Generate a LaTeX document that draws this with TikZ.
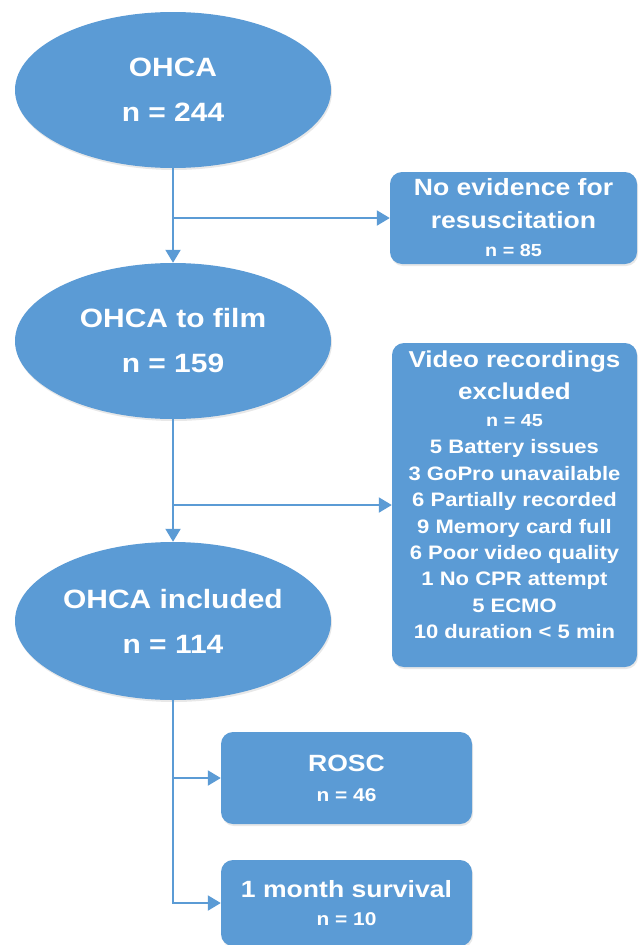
\documentclass[tikz,border=0pt]{standalone}
\usepackage{fontspec}
\usepackage{graphicx}
\setmainfont{Liberation Sans}
\usetikzlibrary{arrows.meta,shadows,shapes.geometric}
\definecolor{boxblue}{HTML}{5B9BD5}
\newcommand{\sx}[1]{\scalebox{1.13}[1]{#1}}
\begin{document}
\begin{tikzpicture}[x=1pt,y=-1pt,
  oval/.style={ellipse, fill=boxblue, draw=none, inner sep=0pt, text=white,
    font=\bfseries\fontsize{26.5}{45}\selectfont, align=center,
    drop shadow={opacity=0.18, shadow xshift=1pt, shadow yshift=-2pt}},
  rbox/.style={rectangle, rounded corners=12pt, fill=boxblue, draw=none, inner sep=0pt,
    text=white, align=center,
    drop shadow={opacity=0.18, shadow xshift=1pt, shadow yshift=-2pt}},
  flow/.style={draw=boxblue, line width=2pt, -{Triangle[length=13pt,width=15pt]}}
]
\useasboundingbox (0,0) rectangle (638,945);
\fill[white] (0,0) rectangle (638,945);

\node[oval, minimum width=316pt, minimum height=156pt] (e1) at (173,90)
  {\sx{OHCA}\\ \sx{n = 244}};
\node[oval, minimum width=316pt, minimum height=156pt] (e2) at (173,341)
  {\sx{OHCA to film}\\ \sx{n = 159}};
\node[oval, minimum width=316pt, minimum height=158pt] (e3) at (173,621)
  {\sx{OHCA included}\\ \sx{n = 114}};

\node[rbox, minimum width=247pt, minimum height=92pt,
  font=\bfseries\fontsize{17.5}{28}\selectfont] (b1) at (513.5,218)
  {\fontsize{23.5}{31}\selectfont \sx{No evidence for}\\[5pt]
   \fontsize{23.5}{31}\selectfont \sx{resuscitation}\\ \sx{n = 85}};
\node[rbox, minimum width=245pt, minimum height=324pt,
  font=\bfseries\fontsize{19.5}{26.4}\selectfont] (b2) at (514.5,505)
  {\fontsize{23}{31}\selectfont \sx{Video recordings}\\[5pt]
   \fontsize{23}{31}\selectfont \sx{excluded}\\[1pt]
   \fontsize{17.5}{26.4}\selectfont \sx{n = 45}\\[1pt]
   \sx{5 Battery issues}\\ \sx{3 GoPro unavailable}\\
   \sx{6 Partially recorded}\\ \sx{9 Memory card full}\\ \sx{6 Poor video quality}\\
   \sx{1 No CPR attempt}\\ \sx{5 ECMO}\\ \sx{10 duration < 5 min}\\[-6pt]};
\node[rbox, minimum width=251pt, minimum height=92pt,
  font=\bfseries\fontsize{18.5}{30}\selectfont] (b3) at (346.5,778)
  {\fontsize{23.5}{30}\selectfont \sx{ROSC}\\ \sx{n = 46}};
\node[rbox, minimum width=251pt, minimum height=86pt,
  font=\bfseries\fontsize{18.5}{28}\selectfont] (b4) at (346.5,903)
  {\fontsize{23.5}{28}\selectfont \sx{1 month survival}\\ \sx{n = 10}};

\draw[flow] (e1.south) -- (e2.north);
\draw[flow] (e1.south |- b1.west) -- (b1.west);
\draw[flow] (e2.south) -- (e3.north);
\draw[flow] (e2.south |- b2.west) -- (b2.west);
\draw[flow] (e3.south) |- (b4.west);
\draw[flow] (e3.south |- b3.west) -- (b3.west);
\end{tikzpicture}
\end{document}
